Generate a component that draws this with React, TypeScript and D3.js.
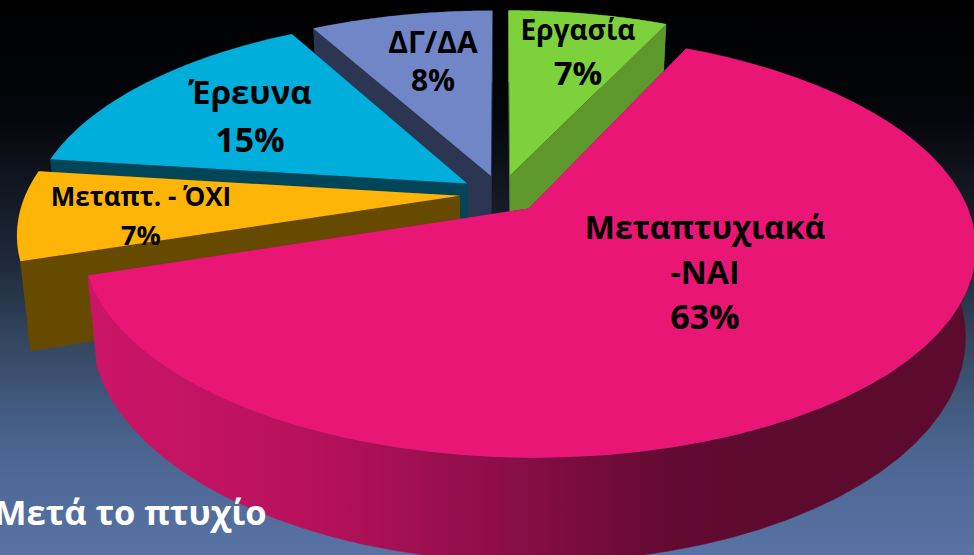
import React from "react";
import * as d3 from "d3";

const categories = ["Εργασία", "Μεταπτυχιακά", "Μεταπτ. - ΌΧΙ", "Έρευνα", "ΔΓ/ΔΑ"];
const shares = [7, 63, 7, 15, 8];
const topColors = ["#7dd13a", "#ea1676", "#ffb507", "#00aedb", "#7086c6"];
const wallColors = ["#5e972c", "url(#pinkWall)", "#664a00", "#004558", "#2c3552"];
const paintOrder = [4, 0, 3, 2, 1];
const labelLines = [["Εργασία", "7%"], ["Μεταπτυχιακά", "-ΝΑΙ", "63%"], ["Μεταπτ. - ΌΧΙ", "7%"], ["Έρευνα", "15%"], ["ΔΓ/ΔΑ", "8%"]];
const labelCentres = [[578, 30], [705, 227], [141, 197], [250, 92], [433, 42]];
const labelSizes = [28, 32, 26, 33, 30];
const percentSizes = [33, 34, 27, 34, 30];
const labelSteps = [43, 45, 38, 48, 38];
const bgStops: [number, string][] = [[0, "#000000"], [0.2, "#03050a"], [0.32, "#10141d"], [0.48, "#1f2a3e"], [0.63, "#364964"], [0.8, "#4a6490"], [1, "#5873a4"]];
const wallStops: [number, string][] = [[0, "#cc1568"], [0.25, "#b8115c"], [0.45, "#8f0e4a"], [0.65, "#640a32"], [0.8, "#5c0a2e"], [1, "#5c0a2e"]];

const W = 974, H = 555;
const cx = 501, cy = 194, Rx = 434, Ry = 200, persp = 0.175, explode = 0.095, depth = 85, shrink = 0.978;

type Pt = [number, number];
function project(px: number, py: number, low: boolean): Pt {
  const w = 1 - persp * py;
  const sx = (Rx * px) / w;
  const sy = (Ry * py) / w;
  return low ? [cx + sx * shrink, cy + sy + depth / w] : [cx + sx, cy + sy];
}

export default function App() {
  const arcs = d3.pie<number>().sort(null).startAngle(0).endAngle(2 * Math.PI)(shares);
  const line = d3.line<Pt>();
  const slices = arcs.map((a) => {
    const mid = (a.startAngle + a.endAngle) / 2;
    const ox = explode * Math.sin(mid), oy = -explode * Math.cos(mid);
    const at = (t: number, r: number, low: boolean) => project(ox + r * Math.sin(t), oy - r * Math.cos(t), low);
    const ts = d3.range(0, 61).map((i) => a.startAngle + ((a.endAngle - a.startAngle) * i) / 60);
    const top = ts.map((t) => at(t, 1, false));
    const bot = ts.map((t) => at(t, 1, true));
    const apexT = at(0, 0, false), apexB = at(0, 0, true);
    return {
      top: line([apexT, ...top])! + "Z",
      rim: line([...top, ...bot.slice().reverse()])! + "Z",
      wallA: line([apexT, top[0], bot[0], apexB])! + "Z",
      wallB: line([apexT, top[60], bot[60], apexB])! + "Z",
    };
  });
  return (
    <svg width={W} height={H} viewBox={`0 0 ${W} ${H}`} style={{ position: "absolute", left: 0, top: 0, display: "block" }}>
      <defs>
        <linearGradient id="bg" x1="0" y1="0" x2="0" y2="1">
          {bgStops.map(([o, c]) => <stop key={o} offset={o} stopColor={c} />)}
        </linearGradient>
        <linearGradient id="pinkWall" gradientUnits="userSpaceOnUse" x1={90} y1={0} x2={974} y2={0}>
          {wallStops.map(([o, c]) => <stop key={o} offset={o} stopColor={c} />)}
        </linearGradient>
      </defs>
      <rect width={W} height={H} fill="url(#bg)" />
      {paintOrder.map((i) => (
        <g key={categories[i]}>
          <path d={slices[i].wallA} fill={wallColors[i]} />
          <path d={slices[i].wallB} fill={wallColors[i]} />
          <path d={slices[i].rim} fill={wallColors[i]} stroke={wallColors[i]} strokeWidth={0.5} />
          <path d={slices[i].top} fill={topColors[i]} />
        </g>
      ))}
      {labelLines.map((ls, i) => (
        <g key={i} fontFamily="'Open Sans', sans-serif" fontWeight={700} textAnchor="middle" fill="#000">
          {ls.map((t, j) => (
            <text key={j} x={labelCentres[i][0]} y={labelCentres[i][1] + j * labelSteps[i]} dy="0.36em"
              fontSize={t.endsWith("%") ? percentSizes[i] : labelSizes[i]}>{t}</text>
          ))}
        </g>
      ))}
      <text x={-6} y={525} fontFamily="'Open Sans', sans-serif" fontWeight={700} fontSize={34.5} fill="#fff">Μετά το πτυχίο</text>
    </svg>
  );
}
